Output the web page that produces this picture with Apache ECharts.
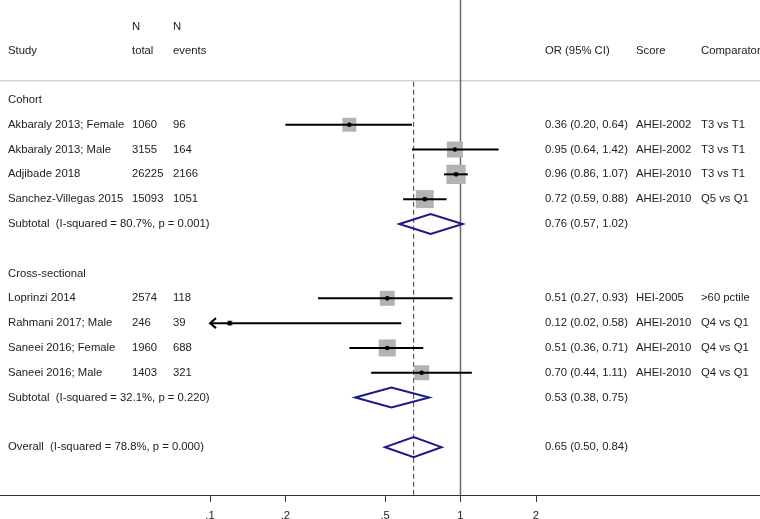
<!DOCTYPE html>
<html><head><meta charset="utf-8">
<script src="https://cdn.jsdelivr.net/npm/echarts@6/dist/echarts.min.js"></script>
<style>html,body{margin:0;padding:0;background:#fff}#c{width:760px;height:519px}</style>
</head><body><div id="c"></div>
<script>
// ---------------- data ----------------
const groupNames = ['Cohort', 'Cross-sectional'];
const studyNames = ['Akbaraly 2013; Female', 'Akbaraly 2013; Male', 'Adjibade 2018', 'Sanchez-Villegas 2015',
                    'Loprinzi 2014', 'Rahmani 2017; Male', 'Saneei 2016; Female', 'Saneei 2016; Male'];
const studyGroup = [0, 0, 0, 0, 1, 1, 1, 1];
const nTotal = [1060, 3155, 26225, 15093, 2574, 246, 1960, 1403];
const nEvents = [96, 164, 2166, 1051, 118, 39, 688, 321];
const oddsRatio = [0.36, 0.95, 0.96, 0.72, 0.51, 0.12, 0.51, 0.70];
const ciLow = [0.20, 0.64, 0.86, 0.59, 0.27, 0.02, 0.36, 0.44];
const ciHigh = [0.64, 1.42, 1.07, 0.88, 0.93, 0.58, 0.71, 1.11];
const scoreNames = ['AHEI-2002', 'AHEI-2002', 'AHEI-2010', 'AHEI-2010', 'HEI-2005', 'AHEI-2010', 'AHEI-2010', 'AHEI-2010'];
const comparators = ['T3 vs T1', 'T3 vs T1', 'T3 vs T1', 'Q5 vs Q1', '>60 pctile', 'Q4 vs Q1', 'Q4 vs Q1', 'Q4 vs Q1'];
const weights = [10.2, 13.4, 19.4, 16.9, 11.7, 1.6, 15.1, 11.7];
const subtotalLabels = ['Subtotal  (I-squared = 80.7%, p = 0.001)', 'Subtotal  (I-squared = 32.1%, p = 0.220)'];
const subtotalOR = [0.76, 0.53];
const subtotalLow = [0.57, 0.38];
const subtotalHigh = [1.02, 0.75];
const overallLabel = 'Overall  (I-squared = 78.8%, p = 0.000)';
const overallOR = [0.65];
const overallLow = [0.50];
const overallHigh = [0.84];
const headerTop = ['N', 'N'];
const headerCols = ['Study', 'total', 'events', 'OR (95% CI)', 'Score', 'Comparator'];
const tickValues = [0.1, 0.2, 0.5, 1, 2];
const tickLabels = ['.1', '.2', '.5', '1', '2'];
const nullValue = 1;

// ---------------- layout ----------------
const FONT = 'Liberation Sans, Arial, sans-serif';
const FS = 11.3;
const TXT = '#222';
const COLX = [8, 132, 173, 545, 636, 701];
const xMin = -1.8383, xMax = 1.1956;
const yMin = -4.03, yMax = 15.93;
const lg = v => Math.log10(v);
const fmt = v => v.toFixed(2);
const ciText = (o, l, h) => fmt(o) + ' (' + fmt(l) + ', ' + fmt(h) + ')';

// build rows
const rows = [];
let r = 0;
groupNames.forEach((g, gi) => {
  rows.push({ row: r++, kind: 'group', gi });
  studyNames.forEach((s, i) => { if (studyGroup[i] === gi) rows.push({ row: r++, kind: 'study', i }); });
  rows.push({ row: r++, kind: 'sub', gi });
  r++;
});
rows.push({ row: r, kind: 'overall' });

function textEl(text, x, y) {
  return { type: 'text', silent: true, style: { text: text, x: x, y: y, fill: TXT, fontSize: FS, fontFamily: FONT, align: 'left', verticalAlign: 'middle' } };
}

const tableData = rows.map((o, k) => [0, o.row, k]);
tableData.push([0, -2, -1]); // header

const studyData = [];
rows.forEach(o => { if (o.kind === 'study') studyData.push([lg(oddsRatio[o.i]), o.row, o.i]); });
const pooledData = [];
rows.forEach(o => {
  if (o.kind === 'sub') pooledData.push([lg(subtotalOR[o.gi]), o.row, lg(subtotalLow[o.gi]), lg(subtotalHigh[o.gi])]);
  if (o.kind === 'overall') pooledData.push([lg(overallOR[0]), o.row, lg(overallLow[0]), lg(overallHigh[0])]);
});

const chart = echarts.init(document.getElementById('c'), null, { renderer: 'canvas' });
chart.setOption({
  animation: false,
  backgroundColor: '#fff',
  grid: { left: 0, right: 0, top: 0, bottom: 24, containLabel: false, outerBoundsMode: 'none' },
  xAxis: {
    type: 'value', min: xMin, max: xMax,
    splitLine: { show: false },
    axisLine: { show: true, onZero: false, lineStyle: { color: '#333', width: 1 } },
    axisTick: { show: true, length: 7, customValues: tickValues.map(lg), lineStyle: { color: '#333', width: 1 } },
    axisLabel: {
      customValues: tickValues.map(lg), margin: 15, color: TXT, fontSize: FS, fontFamily: FONT,
      formatter: v => { let b = 0; tickValues.forEach((t, j) => { if (Math.abs(lg(t) - v) < Math.abs(lg(tickValues[b]) - v)) b = j; }); return tickLabels[b]; }
    }
  },
  yAxis: { type: 'value', inverse: true, min: yMin, max: yMax, show: false },
  series: [
    { // guides
      type: 'custom', silent: true, z: 1,
      data: [[0, 0]],
      renderItem: (params, api) => {
        const w = api.getWidth();
        const sepY = api.coord([0, -0.77])[1];
        const p1a = api.coord([lg(nullValue), yMin]), p1b = api.coord([lg(nullValue), yMax]);
        const pda = api.coord([lg(overallOR[0]), -0.73]), pdb = api.coord([lg(overallOR[0]), yMax]);
        return { type: 'group', children: [
          { type: 'line', shape: { x1: 0, y1: sepY, x2: w, y2: sepY }, style: { stroke: '#d2d2d2', lineWidth: 1.5 } },
          { type: 'line', shape: { x1: p1a[0], y1: p1a[1], x2: p1b[0], y2: p1b[1] }, style: { stroke: '#6a6a6a', lineWidth: 1.5 } },
          { type: 'line', shape: { x1: pda[0], y1: pda[1], x2: pdb[0], y2: pdb[1] }, style: { stroke: '#444', lineWidth: 1, lineDash: [5, 3] } }
        ] };
      }
    },
    { // text table
      type: 'custom', silent: true, z: 3,
      data: tableData,
      renderItem: (params, api) => {
        const k = api.value(2);
        const y = api.coord([0, api.value(1)])[1];
        if (k === -1) {
          const yN = api.coord([0, -2.95])[1];
          const ys = api.coord([0, -1.98])[1];
          return { type: 'group', children: [
            textEl(headerTop[0], COLX[1], yN), textEl(headerTop[1], COLX[2], yN),
            ...headerCols.map((h, j) => textEl(h, COLX[j], ys))
          ] };
        }
        const o = rows[k];
        if (o.kind === 'group') return textEl(groupNames[o.gi], COLX[0], y);
        if (o.kind === 'study') {
          const i = o.i;
          return { type: 'group', children: [
            textEl(studyNames[i], COLX[0], y), textEl(String(nTotal[i]), COLX[1], y), textEl(String(nEvents[i]), COLX[2], y),
            textEl(ciText(oddsRatio[i], ciLow[i], ciHigh[i]), COLX[3], y), textEl(scoreNames[i], COLX[4], y), textEl(comparators[i], COLX[5], y)
          ] };
        }
        if (o.kind === 'sub') return { type: 'group', children: [
          textEl(subtotalLabels[o.gi], COLX[0], y), textEl(ciText(subtotalOR[o.gi], subtotalLow[o.gi], subtotalHigh[o.gi]), COLX[3], y)
        ] };
        return { type: 'group', children: [
          textEl(overallLabel, COLX[0], y), textEl(ciText(overallOR[0], overallLow[0], overallHigh[0]), COLX[3], y)
        ] };
      }
    },
    { // studies
      type: 'custom', silent: true, z: 4,
      data: studyData,
      renderItem: (params, api) => {
        const i = api.value(2);
        const c = api.coord([api.value(0), api.value(1)]);
        const clipLo = lg(tickValues[0]);
        const lo = Math.max(lg(ciLow[i]), clipLo);
        const pl = api.coord([lo, api.value(1)]), ph = api.coord([lg(ciHigh[i]), api.value(1)]);
        const s = Math.sqrt(weights[i]) * 4.38;
        const ch = [
          { type: 'rect', shape: { x: c[0] - s / 2, y: c[1] - s / 2, width: s, height: s }, style: { fill: '#b3b3b3' } },
          { type: 'line', shape: { x1: pl[0], y1: pl[1], x2: ph[0], y2: ph[1] }, style: { stroke: '#000', lineWidth: 2 } },
          { type: 'circle', shape: { cx: c[0], cy: c[1], r: 2.3 }, style: { fill: '#000' } }
        ];
        if (lg(ciLow[i]) < clipLo) {
          ch.push({ type: 'polyline', shape: { points: [[pl[0] + 6, pl[1] - 5], [pl[0], pl[1]], [pl[0] + 6, pl[1] + 5]] }, style: { stroke: '#000', lineWidth: 2, fill: null } });
        }
        return { type: 'group', children: ch };
      }
    },
    { // pooled diamonds
      type: 'custom', silent: true, z: 4,
      data: pooledData,
      renderItem: (params, api) => {
        const y = api.value(1);
        const c = api.coord([api.value(0), y]);
        const l = api.coord([api.value(2), y]);
        const h = api.coord([api.value(3), y]);
        const hh = 10;
        return { type: 'polygon', shape: { points: [[l[0], c[1]], [c[0], c[1] - hh], [h[0], c[1]], [c[0], c[1] + hh]] },
          style: { stroke: '#1b1b82', lineWidth: 2, fill: null } };
      }
    }
  ]
});
</script></body></html>
